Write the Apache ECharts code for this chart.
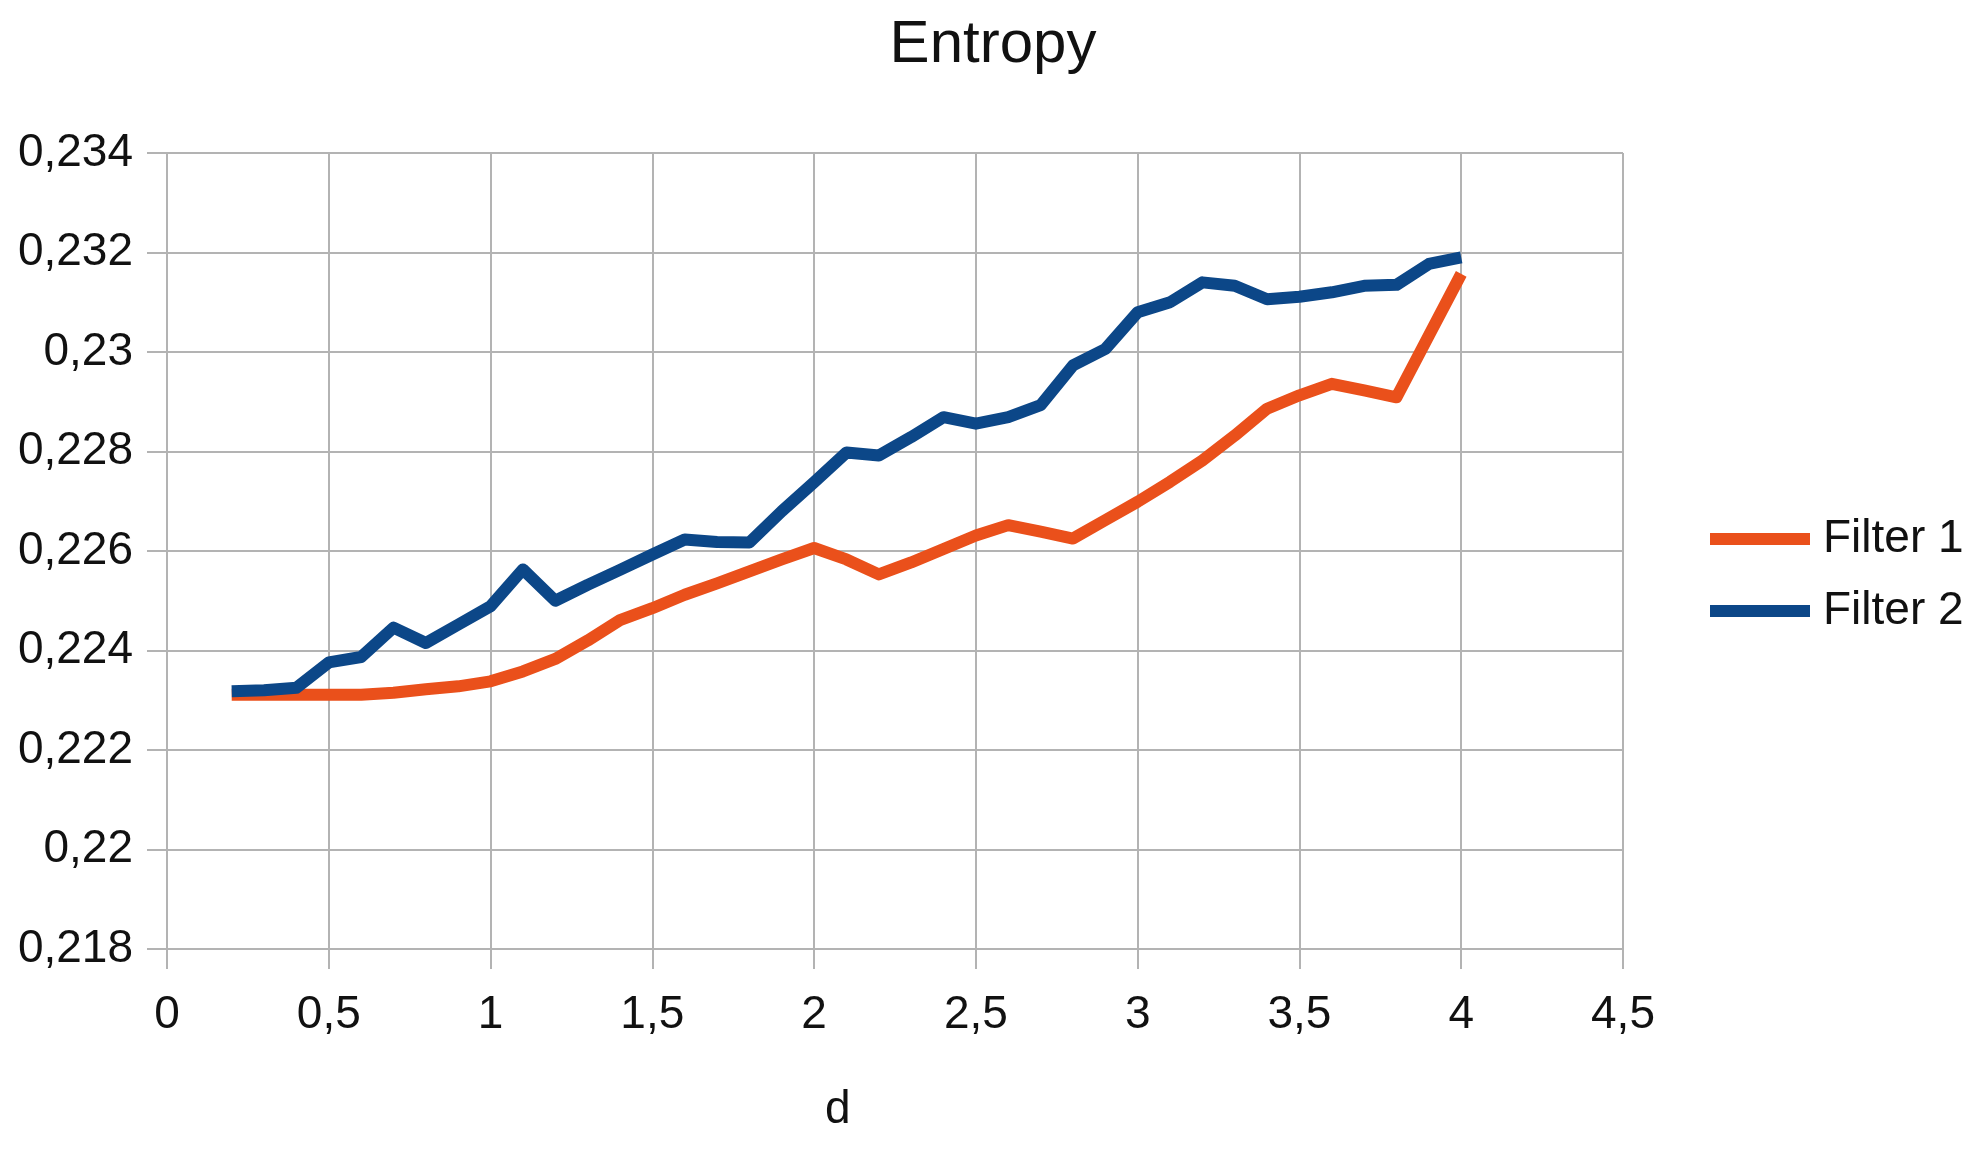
<!DOCTYPE html>
<html>
<head>
<meta charset="utf-8">
<title>Entropy</title>
<script src="https://cdn.jsdelivr.net/npm/echarts@6/dist/echarts.min.js"></script>
<style>
  html, body { margin: 0; padding: 0; background: #fff; }
  #chart { width: 1986px; height: 1152px; }
</style>
</head>
<body>
<div id="chart"></div>
<script>
// d values, 0.2 .. 4.0
var dValues = [0.2, 0.3, 0.4, 0.5, 0.6, 0.7, 0.8, 0.9, 1.0, 1.1, 1.2, 1.3, 1.4,
  1.5, 1.6, 1.7, 1.8, 1.9, 2.0, 2.1, 2.2, 2.3, 2.4, 2.5, 2.6, 2.7, 2.8, 2.9,
  3.0, 3.1, 3.2, 3.3, 3.4, 3.5, 3.6, 3.7, 3.8, 3.9, 4.0];

var filter1 = [0.22311, 0.22311, 0.22311, 0.22311, 0.22311, 0.22315, 0.22322,
  0.22328, 0.22338, 0.22358, 0.22383, 0.22420, 0.22461, 0.22485, 0.22512,
  0.22535, 0.22559, 0.22583, 0.22606, 0.22583, 0.22553, 0.22577, 0.22604,
  0.22631, 0.22652, 0.22639, 0.22625, 0.22662, 0.22699, 0.22739, 0.22782,
  0.22832, 0.22886, 0.22913, 0.22936, 0.22923, 0.22909, 0.23033, 0.23157];

var filter2 = [0.22318, 0.22320, 0.22325, 0.22376, 0.22387, 0.22446, 0.22415,
  0.22452, 0.22489, 0.22563, 0.22500, 0.22532, 0.22562, 0.22593, 0.22623,
  0.22618, 0.22617, 0.22680, 0.22738, 0.22798, 0.22792, 0.22829, 0.22869,
  0.22856, 0.22869, 0.22893, 0.22973, 0.23006, 0.23080, 0.23100, 0.23140,
  0.23133, 0.23106, 0.23111, 0.23120, 0.23133, 0.23135, 0.23177, 0.23190];

var seriesNames = ['Filter 1', 'Filter 2'];

(function () {
  var font = '"Liberation Sans", Arial, sans-serif';
  var ink = '#111';
  var gridColor = '#b3b3b3';
  var orange = '#ea501b';
  var blue = '#0c4788';

  // comma decimal, trailing zeros dropped (0,23 / 0,218 / 4,5)
  function fmt(v) {
    return String(+v.toFixed(3)).replace('.', ',');
  }

  function pairs(ys) {
    return dValues.map(function (x, i) { return [x, ys[i]]; });
  }

  var chart = echarts.init(document.getElementById('chart'), null, { renderer: 'canvas' });

  var axisCommon = {
    axisLine: { show: true, lineStyle: { color: gridColor, width: 2 } },
    axisTick: { show: true, inside: false, length: 20, lineStyle: { color: gridColor, width: 2 } },
    splitLine: { show: true, lineStyle: { color: gridColor, width: 2 } }
  };

  chart.setOption({
    animation: false,
    backgroundColor: '#fff',
    title: [
      {
        text: 'Entropy',
        left: 'center',
        top: 10,
        textStyle: { fontFamily: font, fontSize: 60, fontWeight: 'normal', color: ink }
      },
      {
        text: 'd',
        left: 820,
        top: 1082,
        textStyle: { fontFamily: font, fontSize: 46, fontWeight: 'normal', color: ink }
      }
    ],
    legend: {
      orient: 'vertical',
      left: 1705,
      top: 511,
      icon: 'rect',
      itemWidth: 100,
      itemHeight: 12,
      itemGap: 26,
      data: seriesNames,
      textStyle: { fontFamily: font, fontSize: 46, color: ink, padding: [0, 0, 0, 8] }
    },
    grid: { left: 167, right: 363, top: 153, bottom: 203, containLabel: false },
    xAxis: Object.assign({
      type: 'value',
      min: 0,
      max: 4.5,
      interval: 0.5,
      axisLabel: {
        fontFamily: font, fontSize: 46, color: ink, margin: 43,
        formatter: fmt
      }
    }, axisCommon),
    yAxis: Object.assign({
      type: 'value',
      min: 0.218,
      max: 0.234,
      interval: 0.002,
      axisLabel: {
        fontFamily: font, fontSize: 46, color: ink, margin: 34,
        formatter: fmt
      }
    }, axisCommon),
    series: [
      {
        name: seriesNames[0],
        type: 'line',
        data: pairs(filter1),
        showSymbol: false,
        symbol: 'none',
        color: orange,
        lineStyle: { color: orange, width: 12, join: 'round' }
      },
      {
        name: seriesNames[1],
        type: 'line',
        data: pairs(filter2),
        showSymbol: false,
        symbol: 'none',
        color: blue,
        lineStyle: { color: blue, width: 12, join: 'round' }
      }
    ]
  });

  window.addEventListener('resize', function () { chart.resize(); });
})();
</script>
</body>
</html>
